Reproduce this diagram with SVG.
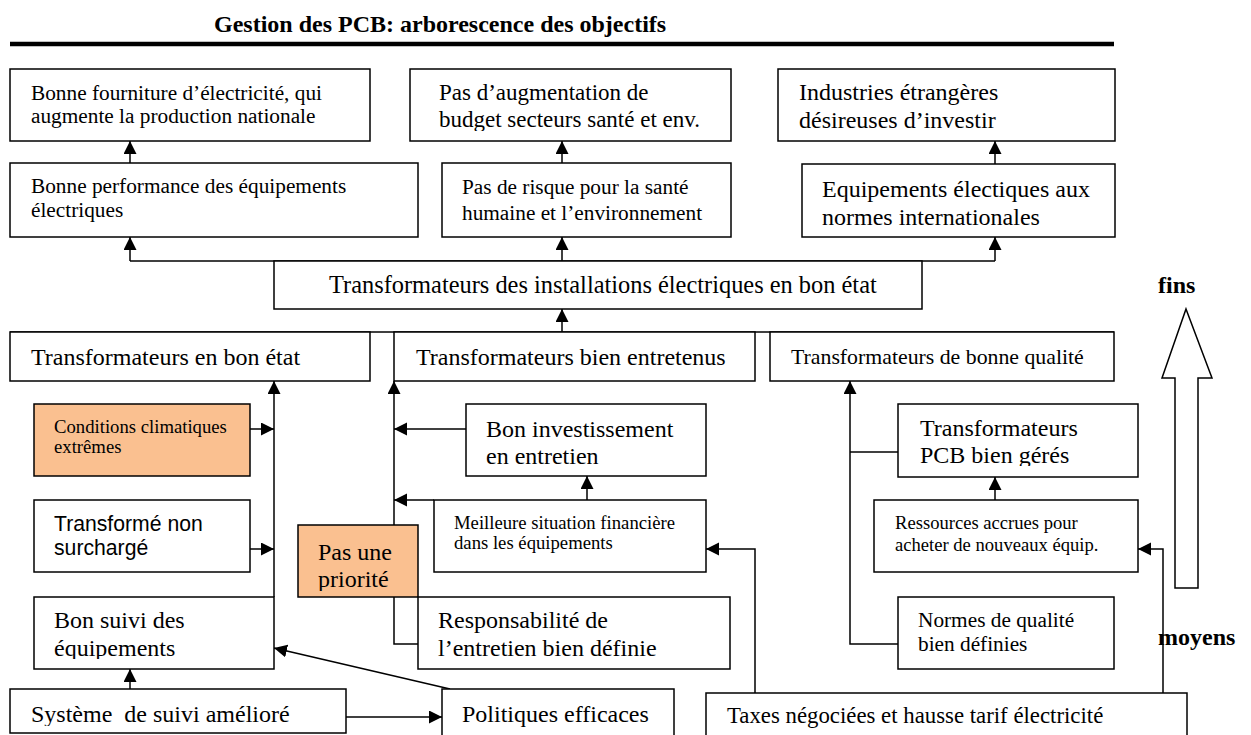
<svg xmlns="http://www.w3.org/2000/svg" width="1251" height="735" viewBox="0 0 1251 735">
  <style>
    .box { fill: #ffffff; stroke: #000000; stroke-width: 1.5; }
    .hot { fill: #fac090; stroke: #000000; stroke-width: 1.5; }
    .t { font-family: "Liberation Serif", "Times New Roman", serif; fill: #000000; }
    .s { font-family: "Liberation Sans", Arial, sans-serif; fill: #000000; }
    .b { font-family: "Liberation Serif", "Times New Roman", serif; font-weight: bold; fill: #000000; }
    .c { fill: none; stroke: #000000; stroke-width: 1.5; }
    .a { fill: none; stroke: #000000; stroke-width: 1.5; marker-end: url(#head); }
  </style>
  <defs>
    <marker id="head" markerUnits="userSpaceOnUse" markerWidth="14" markerHeight="14" refX="13" refY="6.5" orient="auto">
      <path d="M0,0 L13,6.5 L0,13 z" fill="#000000"/>
    </marker>
    <!-- text frames: descenders running past the frame are cut off -->
    <clipPath id="frame-budget"><rect x="410" y="69" width="321" height="62"/></clipPath>
    <clipPath id="frame-suivi"><rect x="34" y="597" width="240" height="62"/></clipPath>
    <clipPath id="frame-priorite"><rect x="298" y="525" width="120" height="66"/></clipPath>
    <clipPath id="frame-pcb"><rect x="898" y="404" width="240" height="62"/></clipPath>
    <clipPath id="frame-systeme"><rect x="10" y="689" width="336" height="37"/></clipPath>
  </defs>

  <rect width="1251" height="735" fill="#ffffff"/>

  <!-- heading -->
  <text class="b" x="214" y="32" font-size="24">Gestion des PCB: arborescence des objectifs</text>
  <line x1="10" y1="44" x2="1114" y2="44" stroke="#000000" stroke-width="4.5"/>

  <!-- connectors -->
  <g id="connectors">
    <line class="a" x1="130" y1="163" x2="130" y2="141"/>
    <line class="a" x1="562" y1="163" x2="562" y2="141"/>
    <line class="a" x1="995" y1="164" x2="995" y2="141"/>

    <line class="c" x1="130" y1="261" x2="995" y2="261"/>
    <line class="a" x1="130" y1="261" x2="130" y2="237"/>
    <line class="a" x1="562" y1="261" x2="562" y2="237"/>
    <line class="a" x1="995" y1="261" x2="995" y2="237"/>

    <line class="c" x1="10" y1="332" x2="1114" y2="332"/>
    <line class="a" x1="562" y1="332" x2="562" y2="309"/>

    <line class="a" x1="274" y1="597" x2="274" y2="381"/>
    <line class="a" x1="250" y1="429" x2="274" y2="429"/>
    <line class="a" x1="250" y1="549" x2="274" y2="549"/>
    <line class="a" x1="130" y1="689" x2="130" y2="669"/>
    <line class="a" x1="346" y1="717" x2="442" y2="717"/>
    <line class="a" x1="450" y1="689" x2="274" y2="648"/>

    <polyline class="a" points="418,644 394,644 394,381"/>
    <line class="a" x1="466" y1="429" x2="394" y2="429"/>
    <line class="a" x1="434" y1="500" x2="394" y2="500"/>
    <line class="a" x1="587" y1="500" x2="587" y2="476"/>
    <polyline class="a" points="755,693 755,549 706,549"/>

    <polyline class="a" points="898,644 850,644 850,381"/>
    <line class="c" x1="898" y1="452" x2="850" y2="452"/>
    <line class="a" x1="995" y1="500" x2="995" y2="477"/>
    <polyline class="a" points="1163,693 1163,549 1138,549"/>
  </g>

  <!-- top row -->
  <g id="fourniture">
    <rect class="box" x="10" y="69" width="360" height="72"/>
    <text class="t" x="31" y="100" font-size="21.3">Bonne fourniture d’électricité, qui</text>
    <text class="t" x="31" y="123" font-size="21.3">augmente la production nationale</text>
  </g>
  <g id="budget">
    <rect class="box" x="410" y="69" width="321" height="72"/>
    <g clip-path="url(#frame-budget)">
      <text class="t" x="439" y="100" font-size="23">Pas d’augmentation de</text>
      <text class="t" x="439" y="127" font-size="23">budget secteurs santé et env.</text>
    </g>
  </g>
  <g id="industries">
    <rect class="box" x="778" y="69" width="337" height="72"/>
    <text class="t" x="799" y="100" font-size="24">Industries étrangères</text>
    <text class="t" x="799" y="128" font-size="24">désireuses d’investir</text>
  </g>

  <!-- second row -->
  <g id="performance">
    <rect class="box" x="10" y="163" width="408" height="74"/>
    <text class="t" x="31" y="193" font-size="21.3">Bonne performance des équipements</text>
    <text class="t" x="31" y="217" font-size="21.3">électriques</text>
  </g>
  <g id="risque">
    <rect class="box" x="442" y="163" width="289" height="74"/>
    <text class="t" x="462" y="194" font-size="21.3">Pas de risque pour la santé</text>
    <text class="t" x="462" y="220" font-size="21.3">humaine et l’environnement</text>
  </g>
  <g id="normes-int">
    <rect class="box" x="802" y="164" width="313" height="73"/>
    <text class="t" x="822" y="197" font-size="24">Equipements électiques aux</text>
    <text class="t" x="822" y="225" font-size="24">normes internationales</text>
  </g>

  <!-- central goal -->
  <g id="installations">
    <rect class="box" x="274" y="261" width="648" height="48"/>
    <text class="t" x="329" y="293" font-size="24.4">Transformateurs des installations électriques en bon état</text>
  </g>

  <!-- fourth row -->
  <g id="bon-etat">
    <rect class="box" x="10" y="332" width="360" height="49"/>
    <text class="t" x="31" y="365" font-size="24">Transformateurs en bon état</text>
  </g>
  <g id="entretenus">
    <rect class="box" x="394" y="332" width="361" height="49"/>
    <text class="t" x="416" y="365" font-size="24">Transformateurs bien entretenus</text>
  </g>
  <g id="qualite">
    <rect class="box" x="770" y="332" width="344" height="49"/>
    <text class="t" x="791" y="364" font-size="21.8">Transformateurs de bonne qualité</text>
  </g>

  <!-- left branch -->
  <g id="climat">
    <rect class="hot" x="34" y="404" width="216" height="72"/>
    <text class="t" x="54" y="433" font-size="18.7">Conditions climatiques</text>
    <text class="t" x="54" y="453" font-size="18.7">extrêmes</text>
  </g>
  <g id="surcharge">
    <rect class="box" x="34" y="500" width="216" height="72"/>
    <text class="s" x="54" y="531" font-size="21.2">Transformé non</text>
    <text class="s" x="54" y="555" font-size="21.2">surchargé</text>
  </g>
  <g id="suivi">
    <rect class="box" x="34" y="597" width="240" height="72"/>
    <g clip-path="url(#frame-suivi)">
      <text class="t" x="54" y="628" font-size="24">Bon suivi des</text>
      <text class="t" x="54" y="656" font-size="24">équipements</text>
    </g>
  </g>
  <g id="systeme">
    <rect class="box" x="10" y="689" width="336" height="44"/>
    <g clip-path="url(#frame-systeme)">
      <text class="t" x="31" y="722" font-size="24" xml:space="preserve">Système  de suivi amélioré</text>
    </g>
  </g>
  <g id="politiques">
    <rect class="box" x="442" y="689" width="232" height="52"/>
    <text class="t" x="462" y="722" font-size="24">Politiques efficaces</text>
  </g>

  <!-- middle branch -->
  <g id="investissement">
    <rect class="box" x="466" y="404" width="240" height="72"/>
    <text class="t" x="486" y="437" font-size="24">Bon investissement</text>
    <text class="t" x="486" y="464" font-size="24">en entretien</text>
  </g>
  <g id="financiere">
    <rect class="box" x="434" y="500" width="272" height="72"/>
    <text class="t" x="454" y="529" font-size="18.7">Meilleure situation financière</text>
    <text class="t" x="454" y="549" font-size="18.7">dans les équipements</text>
  </g>
  <g id="priorite">
    <rect class="hot" x="298" y="525" width="120" height="72"/>
    <g clip-path="url(#frame-priorite)">
      <text class="t" x="318" y="560" font-size="24">Pas une</text>
      <text class="t" x="318" y="587" font-size="24">priorité</text>
    </g>
  </g>
  <g id="responsabilite">
    <rect class="box" x="418" y="597" width="312" height="72"/>
    <text class="t" x="438" y="628" font-size="24">Responsabilité de</text>
    <text class="t" x="438" y="656" font-size="24">l’entretien bien définie</text>
  </g>

  <!-- right branch -->
  <g id="pcb">
    <rect class="box" x="898" y="404" width="240" height="73"/>
    <g clip-path="url(#frame-pcb)">
      <text class="t" x="920" y="436" font-size="24">Transformateurs</text>
      <text class="t" x="920" y="463" font-size="24">PCB bien gérés</text>
    </g>
  </g>
  <g id="ressources">
    <rect class="box" x="874" y="500" width="264" height="72"/>
    <text class="t" x="895" y="529" font-size="18.6">Ressources accrues pour</text>
    <text class="t" x="895" y="551" font-size="18.6">acheter de nouveaux équip.</text>
  </g>
  <g id="normes">
    <rect class="box" x="898" y="597" width="216" height="72"/>
    <text class="t" x="918" y="627" font-size="21.3">Normes de qualité</text>
    <text class="t" x="918" y="651" font-size="21.3">bien définies</text>
  </g>
  <g id="taxes">
    <rect class="box" x="706" y="693" width="481" height="48"/>
    <text class="t" x="727" y="723" font-size="22.8">Taxes négociées et hausse tarif électricité</text>
  </g>

  <!-- ends / means axis -->
  <g id="axe">
    <text class="b" x="1158" y="293" font-size="24">fins</text>
    <path d="M1186,309 L1212,378 L1198,378 L1198,588 L1175,588 L1175,378 L1162,378 Z" fill="#ffffff" stroke="#000000" stroke-width="1.5"/>
    <text class="b" x="1158" y="645" font-size="24">moyens</text>
  </g>
</svg>
